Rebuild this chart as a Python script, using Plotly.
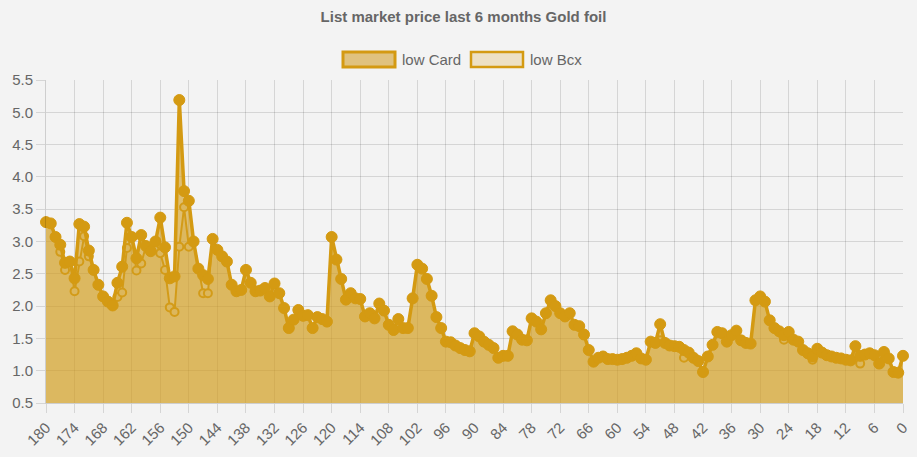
import plotly.graph_objects as go

# ---- data (days before today, 180 -> 0) ----
days = list(range(180, -1, -1))

low_card = [
    3.30, 3.28, 3.07, 2.95, 2.67, 2.69, 2.43, 3.27, 3.23, 2.86,   # 180-171
    2.56, 2.33, 2.15, 2.07, 2.01, 2.36, 2.61, 3.29, 3.07, 2.74,   # 170-161
    3.10, 2.93, 2.85, 3.00, 3.37, 2.91, 2.43, 2.46, 5.19, 3.78,   # 160-151
    3.63, 3.00, 2.58, 2.48, 2.42, 3.04, 2.87, 2.77, 2.69, 2.33,   # 150-141
    2.23, 2.25, 2.56, 2.36, 2.23, 2.24, 2.28, 2.15, 2.35, 2.20,   # 140-131
    1.97, 1.66, 1.79, 1.94, 1.85, 1.86, 1.66, 1.83, 1.80, 1.76,   # 130-121
    3.07, 2.72, 2.42, 2.10, 2.20, 2.12, 2.11, 1.84, 1.89, 1.81,   # 120-111
    2.04, 1.93, 1.71, 1.63, 1.80, 1.66, 1.66, 2.12, 2.64, 2.58,   # 110-101
    2.42, 2.16, 1.83, 1.66, 1.45, 1.44, 1.39, 1.35, 1.32, 1.30,   # 100-91
    1.58, 1.53, 1.45, 1.40, 1.35, 1.20, 1.23, 1.23, 1.61, 1.56,   # 90-81
    1.48, 1.47, 1.81, 1.76, 1.64, 1.89, 2.09, 2.00, 1.89, 1.84,   # 80-71
    1.89, 1.71, 1.69, 1.56, 1.32, 1.14, 1.20, 1.22, 1.18, 1.18,   # 70-61
    1.17, 1.18, 1.20, 1.23, 1.27, 1.19, 1.17, 1.45, 1.43, 1.72,   # 60-51
    1.43, 1.39, 1.38, 1.37, 1.32, 1.28, 1.20, 1.15, 0.98, 1.22,   # 50-41
    1.40, 1.60, 1.58, 1.45, 1.55, 1.62, 1.47, 1.43, 1.42, 2.09,   # 40-31
    2.15, 2.07, 1.78, 1.66, 1.61, 1.55, 1.60, 1.48, 1.45, 1.32,   # 30-21
    1.27, 1.22, 1.34, 1.28, 1.24, 1.22, 1.20, 1.19, 1.17, 1.16,   # 20-11
    1.38, 1.23, 1.25, 1.27, 1.24, 1.11, 1.29, 1.19, 0.98, 0.97,   # 10-1
    1.23,                                                         # 0
]

low_bcx = [
    3.30, 3.28, 3.07, 2.84, 2.56, 2.69, 2.23, 2.69, 3.08, 2.77,   # 180-171
    2.56, 2.33, 2.15, 2.07, 2.01, 2.14, 2.21, 2.90, 3.07, 2.55,   # 170-161
    2.66, 2.93, 2.85, 3.00, 2.82, 2.56, 1.98, 1.91, 2.92, 3.53,   # 160-151
    2.92, 3.00, 2.58, 2.20, 2.20, 3.04, 2.87, 2.77, 2.69, 2.33,   # 150-141
    2.23, 2.25, 2.56, 2.36, 2.23, 2.24, 2.28, 2.15, 2.35, 2.20,   # 140-131
    1.97, 1.66, 1.79, 1.94, 1.85, 1.86, 1.66, 1.83, 1.80, 1.76,   # 130-121
    3.07, 2.72, 2.42, 2.10, 2.20, 2.12, 2.11, 1.84, 1.89, 1.81,   # 120-111
    2.04, 1.93, 1.71, 1.63, 1.80, 1.66, 1.66, 2.12, 2.64, 2.58,   # 110-101
    2.42, 2.16, 1.83, 1.66, 1.45, 1.44, 1.39, 1.35, 1.32, 1.30,   # 100-91
    1.58, 1.53, 1.45, 1.40, 1.35, 1.20, 1.23, 1.23, 1.61, 1.56,   # 90-81
    1.48, 1.47, 1.81, 1.76, 1.64, 1.89, 2.09, 2.00, 1.89, 1.84,   # 80-71
    1.89, 1.71, 1.69, 1.56, 1.32, 1.14, 1.20, 1.22, 1.18, 1.18,   # 70-61
    1.17, 1.18, 1.20, 1.23, 1.27, 1.19, 1.17, 1.45, 1.43, 1.47,   # 60-51
    1.43, 1.39, 1.38, 1.37, 1.20, 1.28, 1.20, 1.15, 0.98, 1.22,   # 50-41
    1.40, 1.60, 1.58, 1.45, 1.55, 1.62, 1.47, 1.43, 1.42, 2.09,   # 40-31
    2.15, 2.07, 1.78, 1.66, 1.61, 1.48, 1.60, 1.48, 1.45, 1.32,   # 30-21
    1.27, 1.17, 1.34, 1.28, 1.24, 1.22, 1.20, 1.19, 1.17, 1.16,   # 20-11
    1.38, 1.11, 1.25, 1.27, 1.24, 1.11, 1.29, 1.19, 0.98, 0.97,   # 10-1
    1.23,                                                         # 0
]

x_ticks = list(range(180, -1, -6))
y_ticks = [0.5, 1.0, 1.5, 2.0, 2.5, 3.0, 3.5, 4.0, 4.5, 5.0, 5.5]

series_names = ["low Card", "low Bcx"]
title_text = "List market price last 6 months Gold foil"

# ---- style ----
GOLD = "rgb(212,154,18)"
FONT = "Liberation Sans, Arial, Helvetica, sans-serif"
TXT = "#666666"
BG = "#f3f3f3"
GRID = "rgba(0,0,0,0.12)"

W, H = 917, 457
ML, MR, MT, MB = 46, 14, 80, 54

fig = go.Figure()

fig.add_trace(go.Scatter(
    x=days, y=low_bcx, name=series_names[1], mode="lines+markers",
    line=dict(color=GOLD, width=2),
    marker=dict(size=8, color="rgb(236,222,190)", line=dict(color=GOLD, width=2)),
    fill="tozeroy", fillcolor="rgba(212,154,18,0.2)",
    cliponaxis=False, showlegend=False,
))
fig.add_trace(go.Scatter(
    x=days, y=low_card, name=series_names[0], mode="lines+markers",
    line=dict(color=GOLD, width=3.5),
    marker=dict(size=11, color=GOLD, line=dict(color=GOLD, width=1)),
    fill="tozeroy", fillcolor="rgba(210,156,28,0.6)",
    cliponaxis=False, showlegend=False,
))

# custom Chart.js-style legend
pw = W - ML - MR
ph = H - MT - MB
def px_x(p):
    return (p - ML) / pw
def px_y(p):
    return 1 + (MT - p) / ph

legend_items = [
    (series_names[0], 343, 395, "rgb(224,194,126)", 3),
    (series_names[1], 471, 523, "rgb(237,224,196)", 2.5),
]
shapes = []
annotations = []
for name, x0, x1, fc, lw in legend_items:
    shapes.append(dict(type="rect", xref="paper", yref="paper",
                       x0=px_x(x0), x1=px_x(x1), y0=px_y(67), y1=px_y(52),
                       fillcolor=fc, line=dict(color=GOLD, width=lw), layer="above"))
    annotations.append(dict(xref="paper", yref="paper", x=px_x(x1 + 5), y=px_y(59.5),
                            xanchor="left", yanchor="middle", showarrow=False,
                            text=name, font=dict(family=FONT, size=15, color=TXT)))

fig.update_layout(
    width=W, height=H,
    margin=dict(l=ML, r=MR, t=MT, b=MB),
    paper_bgcolor=BG, plot_bgcolor=BG,
    font=dict(family=FONT, size=15, color=TXT),
    title=dict(text="<b>" + title_text + "</b>", x=463.5 / W, xanchor="center",
               y=1 - 17 / H, yanchor="middle", yref="container",
               font=dict(family=FONT, size=15, color=TXT)),
    shapes=shapes, annotations=annotations,
    xaxis=dict(range=[180, 0], tickmode="array", tickvals=x_ticks,
               ticktext=[str(v) for v in x_ticks], tickangle=-45,
               showgrid=True, gridcolor=GRID, gridwidth=1,
               ticks="outside", ticklen=9, tickcolor=GRID,
               showline=True, linecolor="rgba(0,0,0,0.15)", zeroline=False,
               automargin=False,
               tickfont=dict(family=FONT, size=15, color=TXT)),
    yaxis=dict(range=[0.5, 5.5], tickmode="array", tickvals=y_ticks,
               ticktext=["%.1f" % v for v in y_ticks],
               showgrid=True, gridcolor=GRID, gridwidth=1,
               ticks="outside", ticklen=9, tickcolor=GRID,
               showline=True, linecolor="rgba(0,0,0,0.15)", zeroline=False,
               automargin=False,
               tickfont=dict(family=FONT, size=15, color=TXT)),
)

fig.write_html("out.html")
